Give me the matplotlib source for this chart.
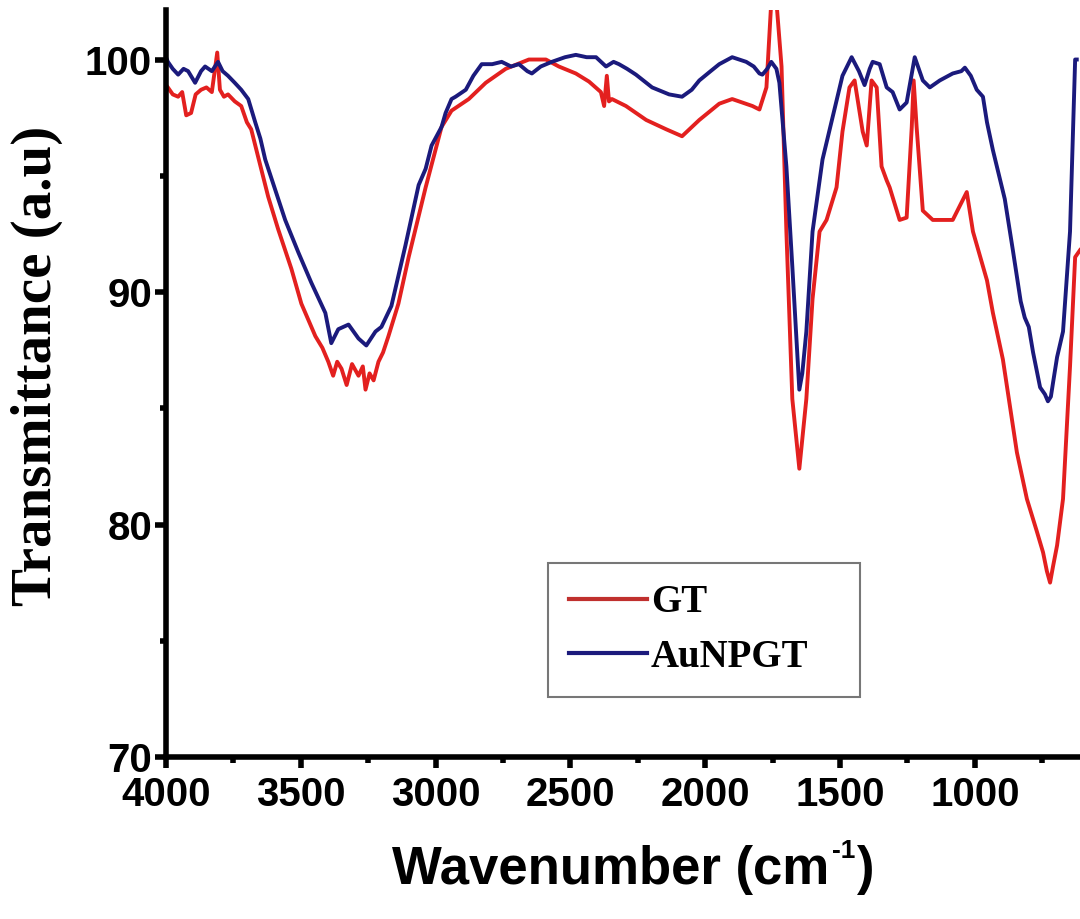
import matplotlib
matplotlib.use("Agg")
import matplotlib.pyplot as plt
from matplotlib.ticker import MultipleLocator

# ---- data ----
wn_aunpgt = [4000, 3993, 3975, 3955, 3935, 3918, 3892, 3870, 3855, 3830, 3807, 3790, 3770,
             3745, 3721, 3695, 3669, 3650, 3632, 3595, 3558, 3509, 3461, 3409, 3387, 3361,
             3323, 3286, 3257, 3223, 3201, 3164, 3112, 3063, 3037, 3015, 2978, 2963, 2941,
             2926, 2888, 2860, 2829, 2790, 2755, 2720, 2691, 2660, 2643, 2610, 2569, 2520,
             2480, 2440, 2405, 2368, 2340, 2320, 2290, 2257, 2197, 2134, 2086, 2050, 2022,
             1980, 1948, 1900, 1874, 1848, 1820, 1799, 1788, 1770, 1755, 1736, 1725, 1699,
             1677, 1651, 1640, 1625, 1602, 1565, 1528, 1491, 1457, 1430, 1409, 1390, 1379,
             1353, 1327, 1305, 1279, 1253, 1223, 1193, 1167, 1130, 1082, 1050, 1037, 1015,
             993, 970, 955, 933, 889, 859, 830, 815, 800, 784, 758, 740, 729, 718, 710, 695,
             673, 647, 636, 628, 622]
t_aunpgt = [100.1, 99.9, 99.6, 99.35, 99.6, 99.5, 99.0, 99.5, 99.7, 99.5, 99.9, 99.5, 99.3,
            99.0, 98.7, 98.3, 97.3, 96.6, 95.7, 94.4, 93.1, 91.7, 90.4, 89.1, 87.8, 88.4,
            88.6, 88.0, 87.7, 88.3, 88.5, 89.4, 92.0, 94.6, 95.3, 96.3, 97.1, 97.7, 98.3,
            98.4, 98.7, 99.3, 99.8, 99.8, 99.9, 99.7, 99.8, 99.5, 99.4, 99.7, 99.9, 100.1,
            100.2, 100.1, 100.1, 99.7, 99.9, 99.8, 99.6, 99.35, 98.8, 98.5, 98.4, 98.7, 99.1,
            99.5, 99.8, 100.1, 100.0, 99.9, 99.7, 99.4, 99.35, 99.6, 99.9, 99.6, 99.0, 95.4,
            91.1, 85.8, 86.5, 88.3, 92.6, 95.7, 97.5, 99.3, 100.1, 99.5, 98.9, 99.6, 99.9,
            99.8, 98.8, 98.6, 97.85, 98.15, 100.1, 99.1, 98.8, 99.1, 99.4, 99.5, 99.65, 99.3,
            98.7, 98.4, 97.3, 96.1, 94.0, 91.8, 89.6, 88.9, 88.5, 87.4, 85.9, 85.6, 85.3,
            85.5, 86.1, 87.2, 88.3, 92.6, 96.9, 100.0, 100.0]

wn_gt = [4000, 3993, 3975, 3955, 3940, 3925, 3907, 3890, 3870, 3850, 3830, 3810, 3800, 3785,
         3770, 3745, 3721, 3700, 3684, 3658, 3621, 3584, 3535, 3498, 3446, 3420, 3398, 3380,
         3365, 3349, 3330, 3310, 3286, 3270, 3260, 3245, 3230, 3212, 3195, 3175, 3138, 3100,
         3037, 2978, 2941, 2877, 2814, 2740, 2654, 2591, 2543, 2480, 2431, 2387, 2375, 2365,
         2357, 2346, 2294, 2219, 2145, 2086, 2022, 1948, 1900, 1825, 1799, 1773, 1755, 1736,
         1717, 1699, 1677, 1651, 1625, 1602, 1576, 1550, 1513, 1491, 1465, 1446, 1416, 1401,
         1383, 1364, 1346, 1327, 1316, 1279, 1253, 1234, 1227, 1216, 1193, 1156, 1082, 1030,
         1007, 955, 933, 896, 870, 844, 807, 770, 747, 733, 721, 710, 695, 673, 647, 628, 610]
t_gt = [98.9, 98.8, 98.5, 98.4, 98.6, 97.6, 97.7, 98.5, 98.7, 98.8, 98.6, 100.3, 98.7, 98.4,
        98.5, 98.2, 98.0, 97.3, 97.0, 95.8, 94.1, 92.7, 91.0, 89.5, 88.1, 87.6, 87.0, 86.4,
        87.0, 86.7, 86.0, 86.9, 86.4, 86.8, 85.8, 86.5, 86.2, 87.0, 87.4, 88.1, 89.5, 91.5,
        94.5, 97.1, 97.8, 98.3, 99.0, 99.6, 100.0, 100.0, 99.7, 99.4, 99.05, 98.6, 98.0, 99.3,
        98.2, 98.3, 98.0, 97.4, 97.0, 96.7, 97.4, 98.1, 98.3, 98.0, 97.85, 98.8, 102.5, 102.5,
        99.7, 92.6, 85.4, 82.4, 85.4, 89.7, 92.6, 93.1, 94.5, 96.9, 98.8, 99.1, 96.9, 96.3,
        99.1, 98.8, 95.4, 94.8, 94.5, 93.1, 93.2, 97.1, 99.1, 97.1, 93.5, 93.1, 93.1, 94.3,
        92.6, 90.5, 89.1, 87.1, 85.1, 83.1, 81.1, 79.7, 78.8, 78.0, 77.5, 78.2, 79.1, 81.1,
        86.8, 91.5, 91.8]

labels = ["GT", "AuNPGT"]
x_ticks = [4000, 3500, 3000, 2500, 2000, 1500, 1000]
y_ticks = [70, 80, 90, 100]

# ---- figure ----
W, H = 1080, 919
fig = plt.figure(figsize=(W / 100, H / 100), dpi=100)
ax = fig.add_axes([166 / W, 1 - 757 / H, (W - 166) / W, (757 - 10) / H])

red = "#e3201f"
navy = "#1b1a7c"
ax.plot(wn_gt, t_gt, color=red, lw=2.8, label=labels[0], solid_joinstyle="round")
ax.plot(wn_aunpgt, t_aunpgt, color=navy, lw=2.8, label=labels[1], solid_joinstyle="round")

ax.set_xlim(4000, 610)
ax.set_ylim(70, 102.13)

for s in ["top", "right"]:
    ax.spines[s].set_visible(False)
for s in ["left", "bottom"]:
    ax.spines[s].set_linewidth(4)

ax.set_xticks(x_ticks)
ax.set_yticks(y_ticks)
ax.xaxis.set_minor_locator(MultipleLocator(250))
ax.yaxis.set_minor_locator(MultipleLocator(5))
ax.tick_params(which="major", direction="out", length=8, width=4)
ax.tick_params(which="minor", direction="out", length=4.5, width=4)
ax.tick_params(axis="x", which="major", pad=6)
ax.tick_params(axis="y", which="major", pad=2)

for lab in ax.get_xticklabels():
    lab.set_fontfamily("Liberation Sans")
    lab.set_fontweight("bold")
    lab.set_fontsize(29)
for lab in ax.get_yticklabels():
    lab.set_fontfamily("Liberation Sans")
    lab.set_fontweight("bold")
    lab.set_fontsize(29)

fig.text(37 / W, 1 - 366 / H, "Transmittance (a.u)", rotation=90, ha="center", va="center",
         fontfamily="Liberation Serif", fontweight="bold", fontsize=41)

# x label with a small superscript "-1"
renderer = fig.canvas.get_renderer()
base_y = 1 - 884 / H
t1 = fig.text(392 / W, base_y, "Wavenumber (cm", ha="left", va="baseline",
              fontfamily="Liberation Sans", fontweight="bold", fontsize=38)
e1 = t1.get_window_extent(renderer)
t2 = fig.text((e1.x1 + 3) / W, 1 - 858 / H, "-1", ha="left", va="baseline",
              fontfamily="Liberation Sans", fontweight="bold", fontsize=19)
e2 = t2.get_window_extent(renderer)
fig.text((e2.x1 + 1) / W, base_y, ")", ha="left", va="baseline",
         fontfamily="Liberation Sans", fontweight="bold", fontsize=38)

x0 = (548 - 166) / (W - 166)
y1 = (757 - 563) / (757 - 10)
y0 = (757 - 700) / (757 - 10)
leg = ax.legend(loc="upper left", bbox_to_anchor=(x0, y0, (860 - 548) / (W - 166), y1 - y0),
                mode="expand", borderaxespad=0, frameon=True, fancybox=False,
                prop={"family": "Liberation Serif", "weight": "bold", "size": 28},
                handlelength=2.0, handletextpad=0.1, labelspacing=0.45, borderpad=0.55)
leg.get_frame().set_edgecolor("#555555")
leg.get_frame().set_linewidth(1.5)
leg.legend_handles[0].set_color("#c0302e")
for h in leg.legend_handles:
    h.set_linewidth(3)

fig.savefig("out.png", dpi=100)
